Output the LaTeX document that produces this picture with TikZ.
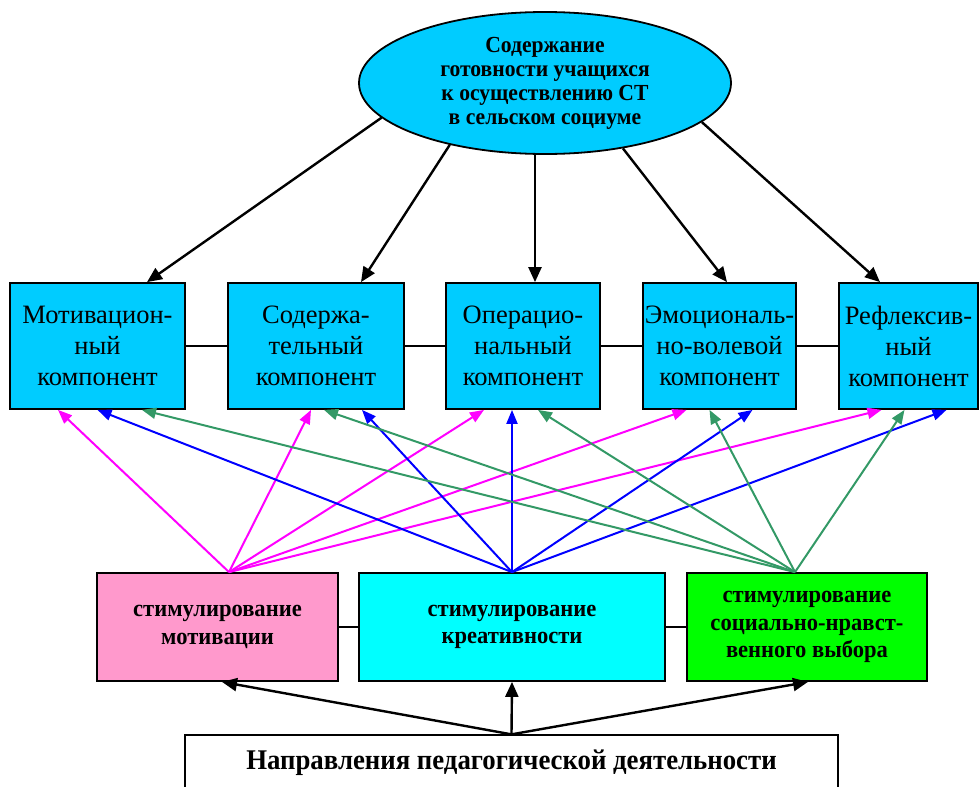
\documentclass[tikz,border=0pt]{standalone}
\usepackage{fontspec}
\setmainfont{Liberation Serif}
\newfontfamily\narrowbold[FakeStretch=0.94]{Liberation Serif Bold}
\usetikzlibrary{arrows.meta,shapes.geometric}

\definecolor{compblue}{HTML}{00CCFF}
\definecolor{motpink}{HTML}{FF99CC}
\definecolor{creacyan}{HTML}{00FFFF}
\definecolor{moralgreen}{HTML}{00FF00}
\definecolor{linkpink}{HTML}{FF00FF}
\definecolor{linkblue}{HTML}{0000FF}
\definecolor{linkgreen}{HTML}{339966}

\tikzset{
  comp/.style={draw=black, line width=1.8pt, fill=compblue, minimum height=126pt,
    inner sep=0pt, align=center, font=\fontsize{26.5}{31}\selectfont},
  dirbox/.style={draw=black, line width=1.8pt, minimum height=108pt,
    inner sep=0pt, align=center, font=\narrowbold\fontsize{24}{27.5}\selectfont},
  mainarr/.style={draw=black, line width=2.4pt, -{Triangle[length=15pt,width=13pt]}},
  linkarr/.style={line width=2pt, -{Triangle[length=14pt,width=11pt]}},
  pinkarr/.style={linkarr, draw=linkpink},
  bluearr/.style={linkarr, draw=linkblue},
  greenarr/.style={linkarr, draw=linkgreen},
  joint/.style={draw=black, line width=1.3pt}
}

\begin{document}
\begin{tikzpicture}[x=1pt,y=-1pt]
\useasboundingbox (0,0) rectangle (980,787);
\clip (0,0) rectangle (980,787);

% central ellipse
\node[ellipse, draw=black, line width=1.8pt, fill=compblue, minimum width=372pt,
  minimum height=142pt, inner sep=0pt, align=center,
  font=\narrowbold\fontsize{23}{24}\selectfont] (e) at (545,83)
  {Содержание\\готовности учащихся\\к осуществлению СТ\\в сельском социуме};

% components
\node[comp, minimum width=175pt] (k1) at (97.5,346) {Мотивацион-\\ный\\компонент};
\node[comp, minimum width=176pt] (k2) at (316,346) {Содержа-\\тельный\\компонент};
\node[comp, minimum width=154pt] (k3) at (523,346) {Операцио-\\нальный\\компонент};
\node[comp, minimum width=153pt] (k4) at (719.5,346) {Эмоциональ-\\но-волевой\\компонент};
\node[comp, minimum width=139pt] (k5) at (908.5,346) {Рефлексив-\\ный\\компонент};

\draw[joint] (k1.east) -- (k2.west);
\draw[joint] (k2.east) -- (k3.west);
\draw[joint] (k3.east) -- (k4.west);
\draw[joint] (k4.east) -- (k5.west);

% directions of stimulation
\node[dirbox, fill=motpink, minimum width=241pt] (s1) at (217.5,627) {стимулирование\\мотивации};
\node[dirbox, fill=creacyan, minimum width=306pt] (s2) at (512,627) {стимулирование\\креативности};
\node[dirbox, fill=moralgreen, minimum width=240pt] (s3) at (807,627) {стимулирование\\социально-нравст-\\венного выбора};

\draw[joint] (s1.east) -- (s2.west);
\draw[joint] (s2.east) -- (s3.west);

% base box
\node[draw=black, line width=1.3pt, fill=white, minimum width=653pt, minimum height=56pt,
  inner sep=0pt, font=\narrowbold\fontsize{28.5}{30}\selectfont] (b) at (511.5,763)
  {Направления педагогической деятельности};

% ellipse to components
\draw[mainarr] (e.192.8) -- ([xshift=49.5pt]k1.north);
\draw[mainarr] (e.213.1) -- ([xshift=45pt]k2.north);
\draw[mainarr] ([xshift=-10pt]e.south) -- ([xshift=12pt]k3.north);
\draw[mainarr] (e.320.4) -- ([xshift=7.5pt]k4.north);
\draw[mainarr] (e.346.3) -- ([xshift=-28.5pt]k5.north);

% base to directions
\draw[mainarr] (b.north) -- ([xshift=4.5pt]s1.south);
\draw[mainarr] (b.north) -- (s2.south);
\draw[mainarr] (b.north) -- ([xshift=1pt]s3.south);

% motivation links
\draw[pinkarr] ([xshift=11.5pt]s1.north) -- ([xshift=-39.5pt]k1.south);
\draw[pinkarr] ([xshift=11.5pt]s1.north) -- ([xshift=-5pt]k2.south);
\draw[pinkarr] ([xshift=11.5pt]s1.north) -- ([xshift=-39pt]k3.south);
\draw[pinkarr] ([xshift=11.5pt]s1.north) -- ([xshift=-33pt]k4.south);
\draw[pinkarr] ([xshift=11.5pt]s1.north) -- ([xshift=-27pt]k5.south);

% creativity links
\draw[bluearr] (s2.north) -- ([xshift=0pt]k1.south);
\draw[bluearr] (s2.north) -- ([xshift=46pt]k2.south);
\draw[bluearr] (s2.north) -- ([xshift=-11pt]k3.south);
\draw[bluearr] (s2.north) -- ([xshift=33pt]k4.south);
\draw[bluearr] (s2.north) -- ([xshift=38pt]k5.south);

% moral choice links
\draw[greenarr] ([xshift=-12pt]s3.north) -- ([xshift=44.5pt]k1.south);
\draw[greenarr] ([xshift=-12pt]s3.north) -- ([xshift=8pt]k2.south);
\draw[greenarr] ([xshift=-12pt]s3.north) -- ([xshift=15pt]k3.south);
\draw[greenarr] ([xshift=-12pt]s3.north) -- ([xshift=-10pt]k4.south);
\draw[greenarr] ([xshift=-12pt]s3.north) -- ([xshift=-4pt]k5.south);
\end{tikzpicture}
\end{document}
